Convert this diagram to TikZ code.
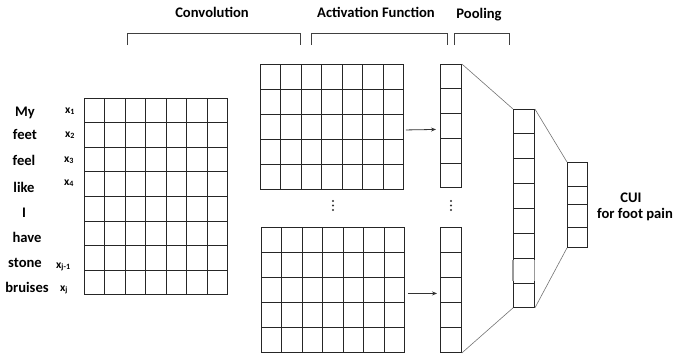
\documentclass[tikz,border=0pt]{standalone}
\usepackage{fontspec}
\setmainfont{Carlito}
\usetikzlibrary{calc,arrows.meta}

\tikzset{
  lbl/.style={font=\fontsize{14.6}{16}\selectfont\bfseries, inner sep=0pt, anchor=base},
  sublbl/.style={font=\fontsize{11.5}{13}\selectfont\bfseries, inner sep=0pt, anchor=base west},
  box/.style={draw=black!85, line width=0.9pt, inner sep=0pt, anchor=north west},
  cellline/.style={draw=black!85, line width=0.9pt},
  link/.style={draw=black!55, line width=0.6pt},
  brace/.style={draw=black!75, line width=0.9pt},
  flow/.style={draw=black!80, line width=0.8pt, -{Stealth[length=5pt,width=4pt]}},
  dot/.style={circle, fill=black!80, inner sep=0pt, minimum size=2.1pt},
}

% draws the inner lines of a box node split into #2 columns and #3 rows
\newcommand{\cellgrid}[3]{%
  \pgfmathtruncatemacro{\lastcol}{#2-1}%
  \pgfmathtruncatemacro{\lastrow}{#3-1}%
  \ifnum\lastcol>0
  \foreach \i in {1,...,\lastcol}
    \draw[cellline] ($(#1.north west)!{\i/#2}!(#1.north east)$) -- ($(#1.south west)!{\i/#2}!(#1.south east)$);
  \fi
  \ifnum\lastrow>0
  \foreach \j in {1,...,\lastrow}
    \draw[cellline] ($(#1.north west)!{\j/#3}!(#1.south west)$) -- ($(#1.north east)!{\j/#3}!(#1.south east)$);
  \fi
}

\begin{document}
\begin{tikzpicture}[x=1pt, y=-1pt]
\useasboundingbox (0,0) rectangle (674,356);

% stage titles and their brackets
\node[lbl] (tconv) at (212,17) {Convolution};
\node[lbl] (tact)  at (376,17) {Activation Function};
\node[lbl] (tpool) at (479,18) {Pooling};
\draw[brace] (127,45) |- (300,33) -- (300,45);
\draw[brace] (311,45) |- (447,33) -- (447,45);
\draw[brace] (454,45) |- (509,33) -- (509,45);

% input sentence and word vectors
\node[box, minimum width=143pt, minimum height=196pt] (inp) at (84,98) {};
\cellgrid{inp}{7}{8}

\node[lbl] (w1) at (25,116) {My};
\node[lbl] (w2) at (25,139) {feet};
\node[lbl] (w3) at (24,165) {feel};
\node[lbl] (w4) at (24,192) {like};
\node[lbl] (w5) at (24,217) {I};
\node[lbl] (w6) at (27,242) {have};
\node[lbl] (w7) at (25,267) {stone};
\node[lbl] (w8) at (27,292) {bruises};

\node[sublbl] (x1) at (65,113) {x\textsubscript{1}};
\node[sublbl] (x2) at (65,137) {x\textsubscript{2}};
\node[sublbl] (x3) at (64,162) {x\textsubscript{3}};
\node[sublbl] (x4) at (64,185) {x\textsubscript{4}};
\node[sublbl] (xj1) at (56,268) {x\textsubscript{j-1}};
\node[sublbl] (xj) at (60,291) {x\textsubscript{j}};

% convolution feature maps
\node[box, minimum width=143pt, minimum height=125pt] (upc) at (260,64) {};
\cellgrid{upc}{7}{5}
\node[box, minimum width=143pt, minimum height=125pt] (loc) at (261,227) {};
\cellgrid{loc}{7}{5}

% activation outputs
\node[box, minimum width=21pt, minimum height=123pt] (upv) at (440,64) {};
\cellgrid{upv}{1}{5}
\node[box, minimum width=21pt, minimum height=125pt] (lov) at (440,227) {};
\cellgrid{lov}{1}{5}

\draw[flow] ([xshift=2pt,yshift=-3pt]upc.east) -- ([xshift=-4pt,yshift=-3.5pt]upv.west);
\draw[flow] ([xshift=3pt,yshift=-3.5pt]loc.east) -- ([xshift=-3pt,yshift=-3.5pt]lov.west);

% elided maps
\node[dot] (d1) at (333,201) {};
\node[dot] (d2) at (333,205.5) {};
\node[dot] (d3) at (333,210) {};
\node[dot] (e1) at (451,201) {};
\node[dot] (e2) at (451,205.5) {};
\node[dot] (e3) at (451,210) {};

% pooled vector
\node[box, minimum width=21pt, minimum height=198pt] (pool) at (513,109) {};
\cellgrid{pool}{1}{8}
\draw[draw=black!40, line width=1.1pt]
  ($(pool.north west)!{6/8}!(pool.south west)$) ++(0,1.5) -- ++(0,21.75);
\draw[draw=black!40, line width=1.1pt]
  ($(pool.north east)!{6/8}!(pool.south east)$) ++(0,1.5) -- ++(0,21.75);

% output vector
\node[box, minimum width=20pt, minimum height=85pt] (fin) at (567,162) {};
\draw[cellline] (fin.north west) ++(0,24) -- ++(20,0);
\draw[cellline] (fin.north west) ++(0,42) -- ++(20,0);
\draw[cellline] (fin.north west) ++(0,65) -- ++(20,0);

% connections between stages
\draw[link] (upv.north east) -- (pool.north west);
\draw[link] (lov.south east) -- (pool.south west);
\draw[link] (pool.north east) -- (fin.north west);
\draw[link] (pool.south east) -- (fin.south west);

% result label
\node[lbl] (cui) at (631,202) {CUI};
\node[lbl] (cuitxt) at (635,218) {for foot pain};
\end{tikzpicture}
\end{document}
